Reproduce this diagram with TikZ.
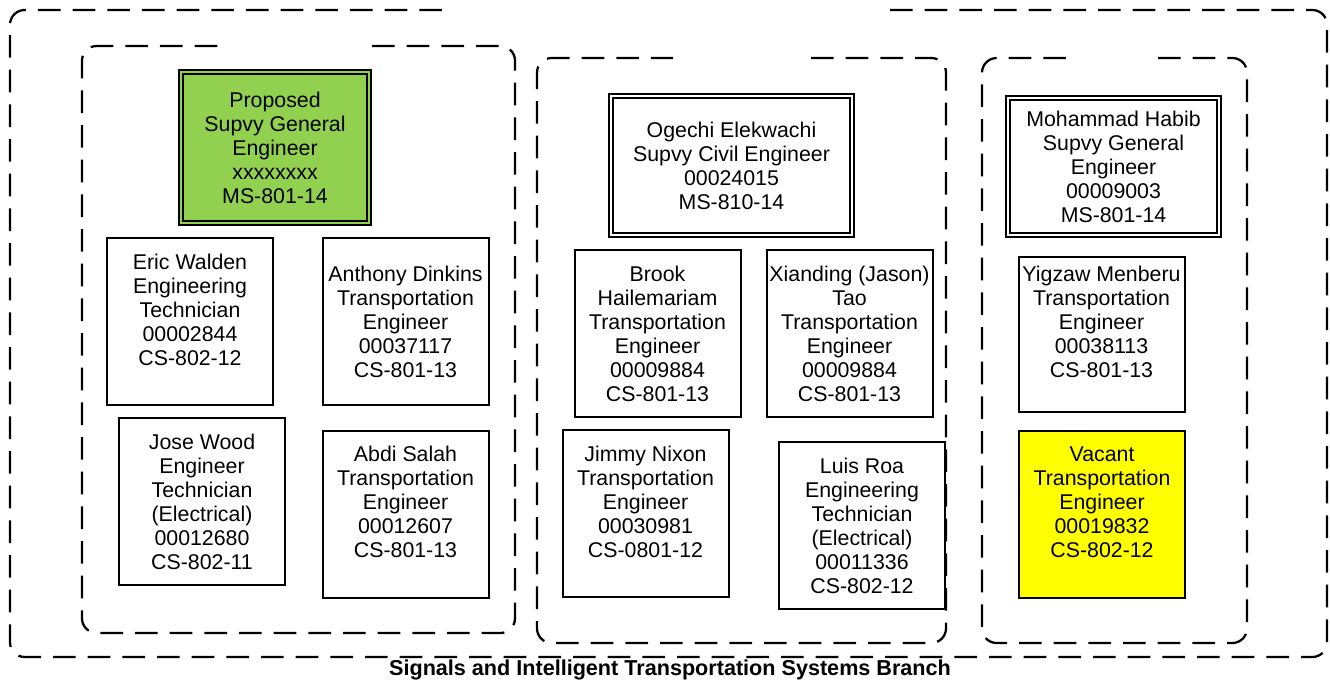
\documentclass[tikz,border=0pt]{standalone}
\usepackage{fontspec}
\setmainfont{Liberation Sans}
\usepackage{xcolor}
\usepackage{tikz}
\usetikzlibrary{shapes,positioning}
\definecolor{propgreen}{RGB}{146,208,80}
\definecolor{vacyellow}{RGB}{255,255,0}

\begin{document}
\begin{tikzpicture}[
    x=0.75pt, y=-0.75pt,
    box/.style={rectangle, draw, line width=1.5pt, fill=white, minimum width=124.5pt, minimum height=125.25pt, inner sep=0pt, align=center, font=\fontsize{16}{18}\selectfont},
    lead/.style={box, line width=1.4pt, double=white, double distance=1.5pt},
    proposed/.style={lead, fill=propgreen, double=propgreen, minimum width=141.2pt, minimum height=113.5pt},
    vacant/.style={box, fill=vacyellow},
    grpline/.style={dash pattern=on 17pt off 9pt, line width=1.7pt, rounded corners=11pt},
    branchtitle/.style={font=\fontsize{16.2}{19}\selectfont\bfseries}
]
\useasboundingbox (0,0) rectangle (1330,683);

% Branch boundary
\draw[grpline] (890,10) -- (1327,10) -- (1327,657) -- (10,657) -- (10,10) -- (452,10);
\node[branchtitle] (branch-title) at (670,670) {Signals and Intelligent Transportation Systems Branch};

% Left section
\draw[grpline] (372,46) -- (515,46) -- (515,633) -- (82,633) -- (82,46) -- (226,46);
\node[proposed] (left-lead) at (275,147.5) {Proposed\\Supvy General\\Engineer\\xxxxxxxx\\MS-801-14};
\node[box] (left1) at (190,321.5) {Eric Walden\\Engineering\\Technician\\00002844\\CS-802-12\\~};
\node[box] (left2) at (405.5,321.5) {Anthony Dinkins\\Transportation\\Engineer\\00037117\\CS-801-13};
\node[box] (left3) at (202,501.5) {Jose Wood\\Engineer\\Technician\\(Electrical)\\00012680\\CS-802-11};
\node[box] (left4) at (405.5,514) {Abdi Salah\\Transportation\\Engineer\\00012607\\CS-801-13\\~};

% Middle section
\draw[grpline] (811,58) -- (946,58) -- (946,643) -- (537,643) -- (537,58) -- (673,58);
\node[lead, minimum width=181pt, minimum height=104.5pt] (mid-lead) at (731.5,165.5) {Ogechi Elekwachi\\Supvy Civil Engineer\\00024015\\MS-810-14};
\node[box] (mid1) at (657.5,333.5) {Brook\\Hailemariam\\Transportation\\Engineer\\00009884\\CS-801-13};
\node[box] (mid2) at (849.5,333.5) {Xianding (Jason)\\Tao\\Transportation\\Engineer\\00009884\\CS-801-13};
\node[box] (mid3) at (645.5,513.5) {Jimmy Nixon\\Transportation\\Engineer\\00030981\\CS-0801-12\\~};
\node[box] (mid4) at (862,525.5) {Luis Roa\\Engineering\\Technician\\(Electrical)\\00011336\\CS-802-12};

% Right section
\draw[grpline] (1158,58) -- (1247,58) -- (1247,643) -- (982,643) -- (982,58) -- (1071,58);
\node[lead, minimum width=158.5pt, minimum height=103pt] (right-lead) at (1113.5,166.5) {Mohammad Habib\\Supvy General\\Engineer\\00009003\\MS-801-14};
\node[box, minimum height=116.25pt] (right1) at (1101.5,334) {Yigzaw Menberu\\Transportation\\Engineer\\00038113\\CS-801-13\\~};
\node[vacant] (right2) at (1102,514) {Vacant\\Transportation\\Engineer\\00019832\\CS-802-12\\~};

\end{tikzpicture}
\end{document}
